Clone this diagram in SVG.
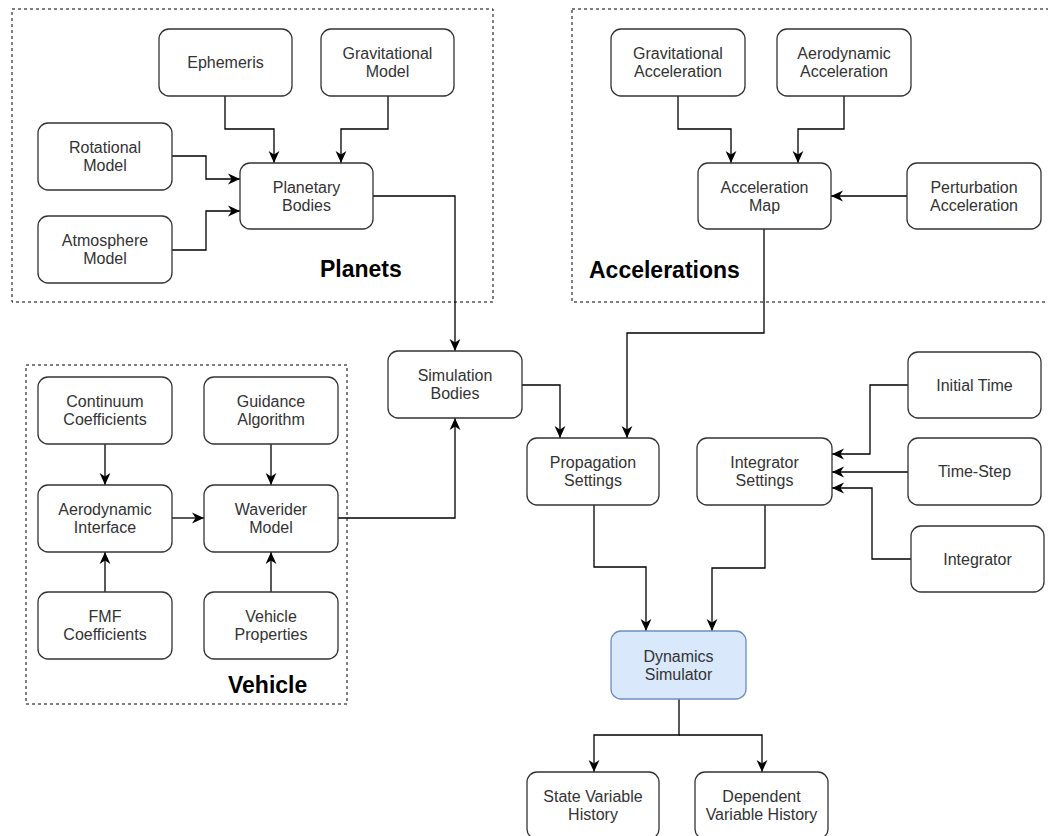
<svg xmlns="http://www.w3.org/2000/svg" width="1048" height="836" viewBox="0 0 1048 836">
<defs>
<marker id="arr" markerUnits="userSpaceOnUse" markerWidth="12" markerHeight="12" refX="10" refY="5" orient="auto" viewBox="0 0 10 10">
<path d="M0,0.5 L10,5 L0,9.5 L3,5 Z" fill="#000"/>
</marker>
<style>
.n rect{fill:#fff;stroke:#333;stroke-width:1.3}
.n text{font-family:"Liberation Sans",Arial,sans-serif;font-size:16px;fill:#333;text-anchor:middle}
.grp{fill:none;stroke:#000;stroke-width:1;stroke-dasharray:3,3}
.lbl{font-family:"Liberation Sans",Arial,sans-serif;font-size:23px;font-weight:bold;fill:#000}
#edges path{fill:none;stroke:#000;stroke-width:1.3;marker-end:url(#arr)}
#edges path.plain{marker-end:none}
#dyn rect{fill:#dae8fc;stroke:#6c8ebf}
</style>
</defs>
<rect width="1048" height="836" fill="#fff"/>

<g id="groups">
<rect class="grp" x="12" y="9" width="481" height="293"/>
<rect class="grp" x="572" y="9" width="480" height="293"/>
<rect class="grp" x="26" y="365" width="321" height="339"/>
<text class="lbl" x="320" y="277">Planets</text>
<text class="lbl" x="589" y="278">Accelerations</text>
<text class="lbl" x="228" y="693">Vehicle</text>
</g>

<g id="edges">
<path d="M225,96 V129 H274 V163"/>
<path d="M388,96 V129 H341 V163"/>
<path d="M172,156 H206 V179 H240"/>
<path d="M172,250 H206 V211 H240"/>
<path d="M373,196 H455 V351"/>
<path d="M678,96 V129 H731 V163"/>
<path d="M844,96 V129 H798 V163"/>
<path d="M907,196 H831"/>
<path d="M764,229 V333 H627 V438"/>
<path d="M522,385 H560 V438"/>
<path d="M338,518 H455 V418"/>
<path d="M105,444 V485"/>
<path d="M271,444 V485"/>
<path d="M105,592 V552"/>
<path d="M271,592 V552"/>
<path d="M172,518 H204"/>
<path d="M908,385 H870 V454 H832"/>
<path d="M908,472 H832"/>
<path d="M911,559 H872 V488 H832"/>
<path d="M594,505 V567 H646 V631"/>
<path d="M765,505 V568 H712 V631"/>
<path d="M679,699 V735 H594 V772"/>
<path d="M679,735 H762 V772"/>
</g>

<g id="ephemeris" class="n"><rect x="159" y="29" width="133" height="67" rx="10"/><text x="225.5" y="68">Ephemeris</text></g>
<g id="gravmodel" class="n"><rect x="321" y="29" width="133" height="67" rx="10"/><text x="387.5" y="59">Gravitational</text><text x="387.5" y="77">Model</text></g>
<g id="rotational" class="n"><rect x="38" y="123" width="134" height="67" rx="10"/><text x="105" y="153">Rotational</text><text x="105" y="171">Model</text></g>
<g id="planetary" class="n"><rect x="240" y="163" width="133" height="66" rx="10"/><text x="306.5" y="193">Planetary</text><text x="306.5" y="211">Bodies</text></g>
<g id="atmosphere" class="n"><rect x="38" y="216" width="134" height="67" rx="10"/><text x="105" y="246">Atmosphere</text><text x="105" y="264">Model</text></g>

<g id="gravacc" class="n"><rect x="611" y="29" width="134" height="67" rx="10"/><text x="678" y="59">Gravitational</text><text x="678" y="77">Acceleration</text></g>
<g id="aeroacc" class="n"><rect x="777" y="29" width="134" height="67" rx="10"/><text x="844" y="59">Aerodynamic</text><text x="844" y="77">Acceleration</text></g>
<g id="accmap" class="n"><rect x="698" y="163" width="133" height="66" rx="10"/><text x="764.5" y="193">Acceleration</text><text x="764.5" y="211">Map</text></g>
<g id="perturb" class="n"><rect x="907" y="163" width="134" height="66" rx="10"/><text x="974" y="193">Perturbation</text><text x="974" y="211">Acceleration</text></g>

<g id="simbodies" class="n"><rect x="388" y="351" width="134" height="67" rx="10"/><text x="455" y="381">Simulation</text><text x="455" y="399">Bodies</text></g>
<g id="propsettings" class="n"><rect x="527" y="438" width="132" height="67" rx="10"/><text x="593" y="468">Propagation</text><text x="593" y="486">Settings</text></g>
<g id="intsettings" class="n"><rect x="697" y="438" width="135" height="67" rx="10"/><text x="764.5" y="468">Integrator</text><text x="764.5" y="486">Settings</text></g>
<g id="inittime" class="n"><rect x="908" y="352" width="133" height="66" rx="10"/><text x="974.5" y="391">Initial Time</text></g>
<g id="timestep" class="n"><rect x="908" y="438" width="133" height="67" rx="10"/><text x="974.5" y="477">Time-Step</text></g>
<g id="integrator" class="n"><rect x="911" y="526" width="133" height="66" rx="10"/><text x="977.5" y="565">Integrator</text></g>

<g id="continuum" class="n"><rect x="38" y="377" width="134" height="67" rx="10"/><text x="105" y="407">Continuum</text><text x="105" y="425">Coefficients</text></g>
<g id="guidance" class="n"><rect x="204" y="377" width="134" height="67" rx="10"/><text x="271" y="407">Guidance</text><text x="271" y="425">Algorithm</text></g>
<g id="aerointerface" class="n"><rect x="38" y="485" width="134" height="67" rx="10"/><text x="105" y="515">Aerodynamic</text><text x="105" y="533">Interface</text></g>
<g id="waverider" class="n"><rect x="204" y="485" width="134" height="67" rx="10"/><text x="271" y="515">Waverider</text><text x="271" y="533">Model</text></g>
<g id="fmf" class="n"><rect x="38" y="592" width="134" height="67" rx="10"/><text x="105" y="622">FMF</text><text x="105" y="640">Coefficients</text></g>
<g id="vehprops" class="n"><rect x="204" y="592" width="134" height="67" rx="10"/><text x="271" y="622">Vehicle</text><text x="271" y="640">Properties</text></g>

<g id="dyn" class="n"><rect x="611" y="631" width="135" height="68" rx="10"/><text x="678.5" y="662">Dynamics</text><text x="678.5" y="680">Simulator</text></g>
<g id="statehist" class="n"><rect x="527" y="772" width="132" height="67" rx="10"/><text x="593" y="802">State Variable</text><text x="593" y="820">History</text></g>
<g id="dephist" class="n"><rect x="695" y="772" width="133" height="67" rx="10"/><text x="761.5" y="802">Dependent</text><text x="761.5" y="820">Variable History</text></g>
</svg>
